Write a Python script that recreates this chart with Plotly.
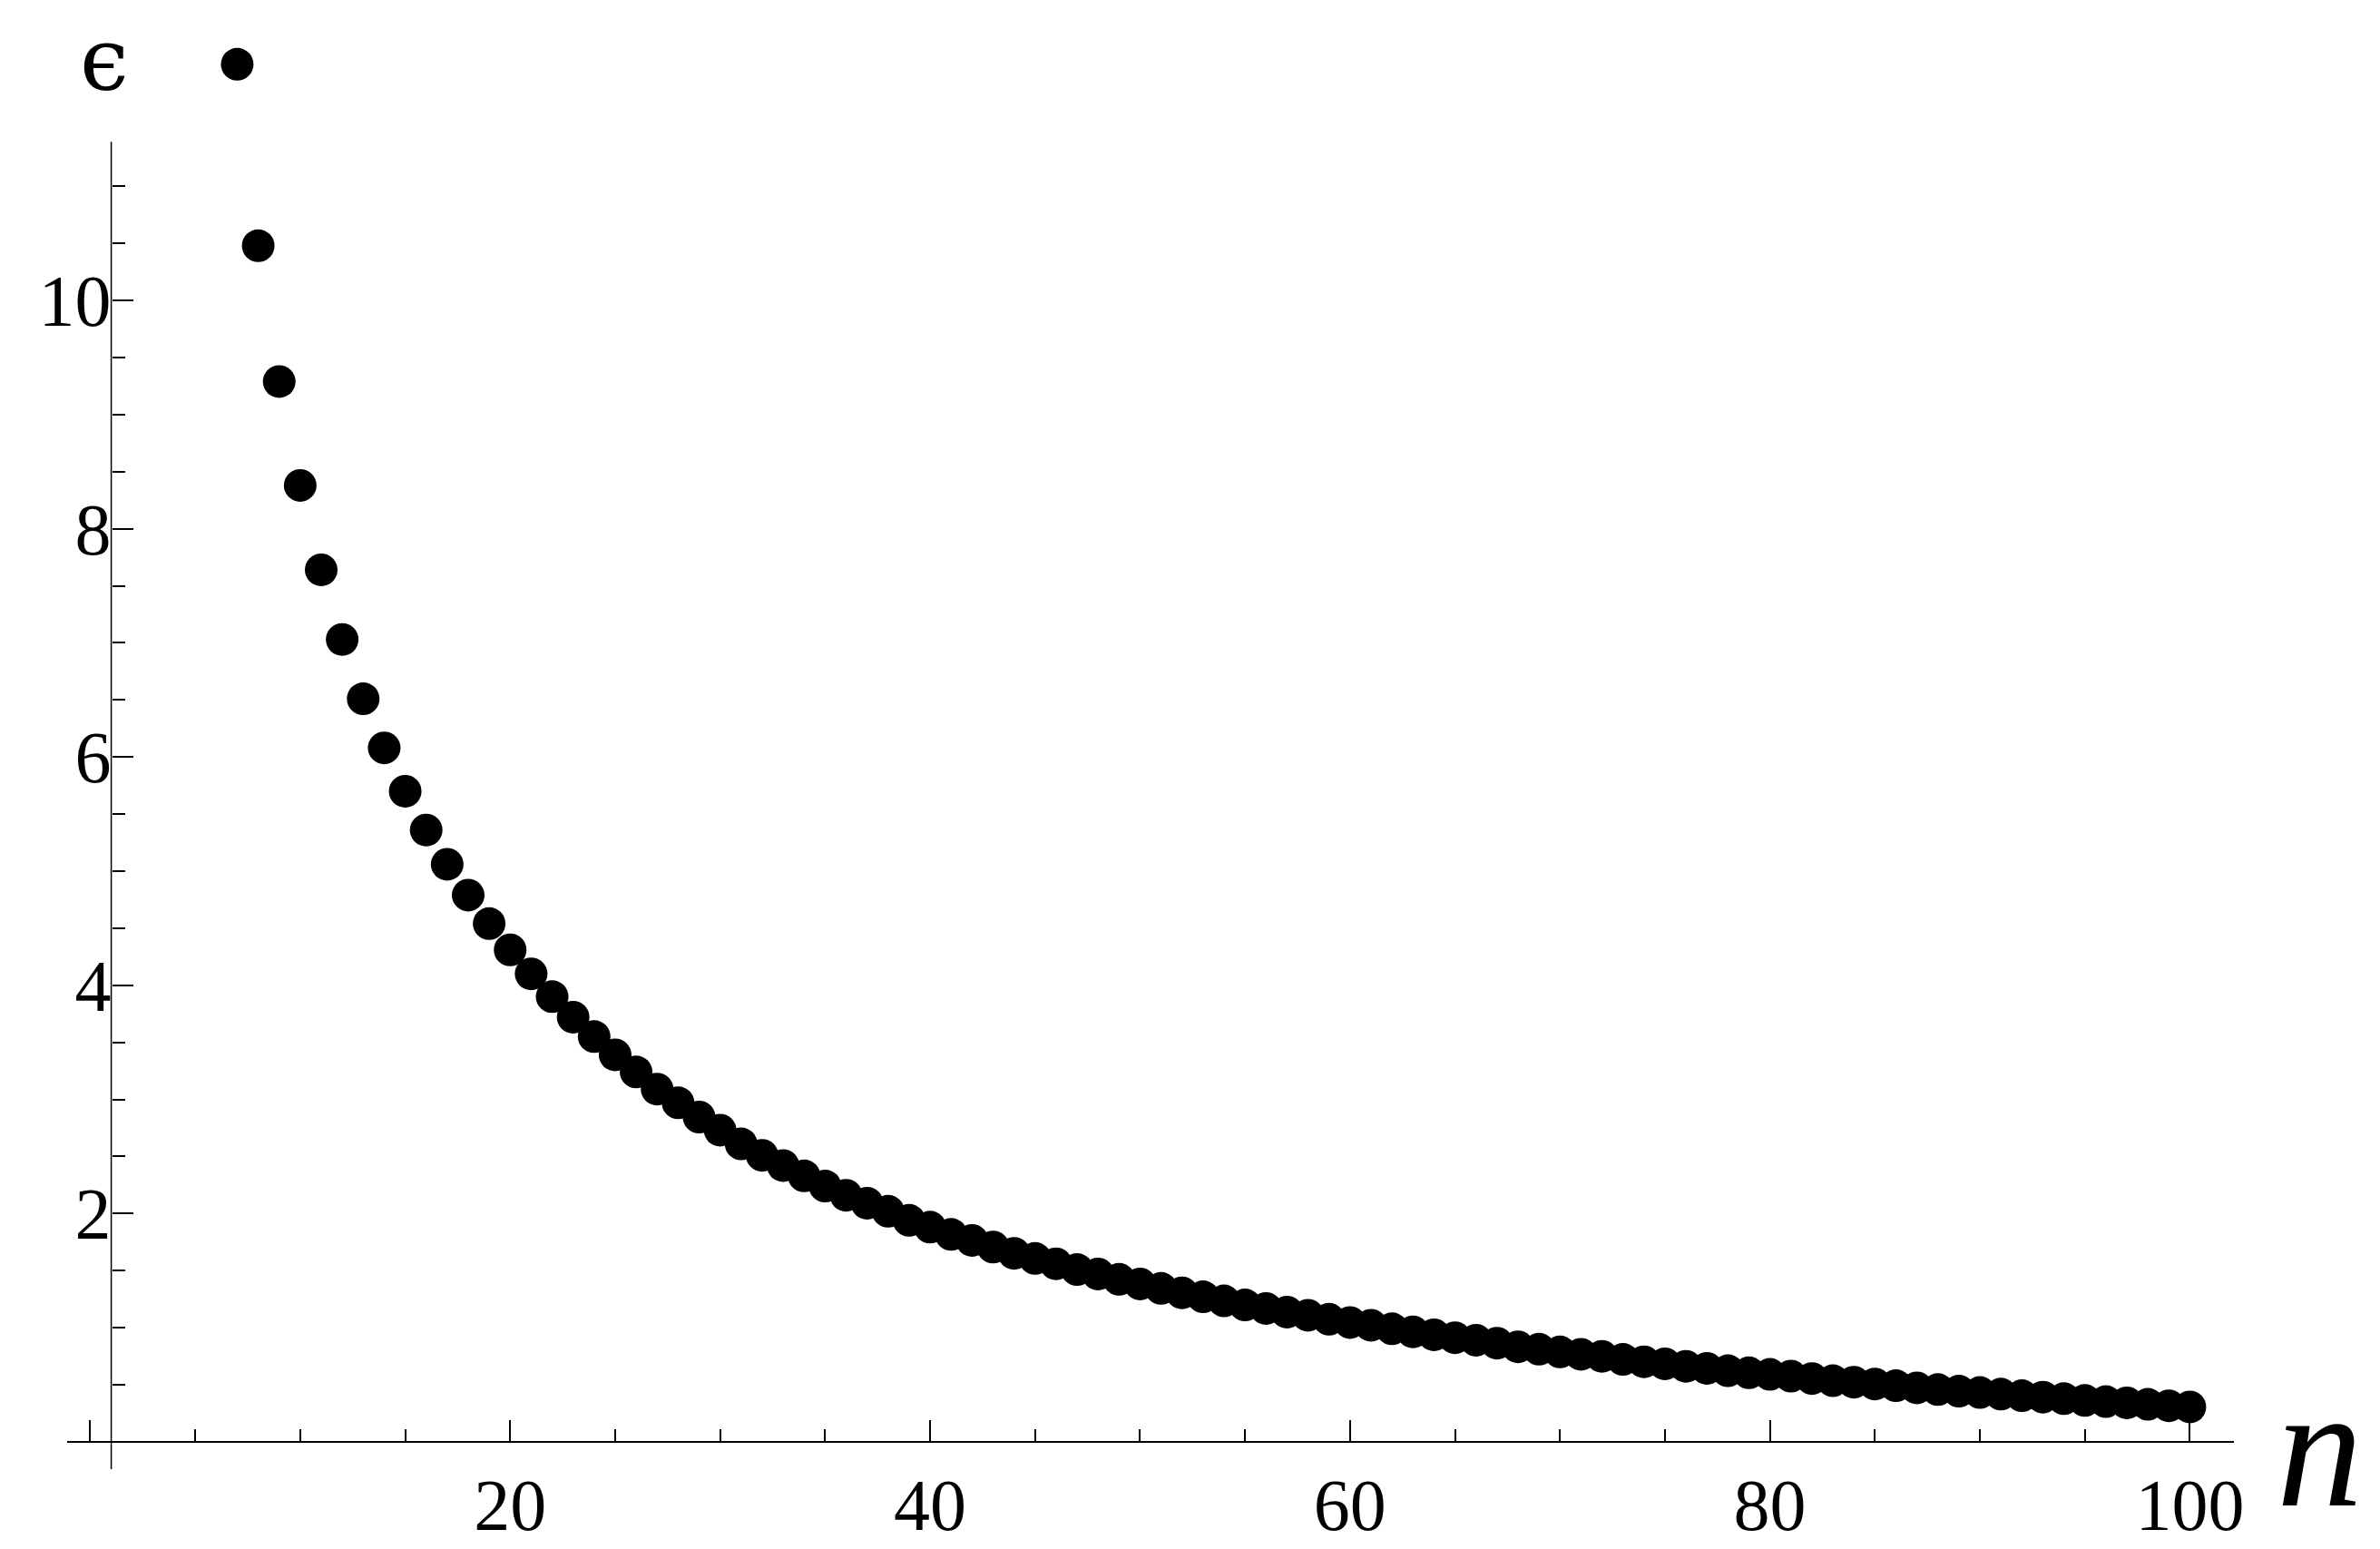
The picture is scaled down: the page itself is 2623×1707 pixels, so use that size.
import plotly.graph_objects as go

# ---- data ----
n_values = list(range(7, 101))
eps_values = [
    12.07, 10.48, 9.29, 8.38, 7.64, 7.03, 6.51, 6.08, 5.70, 5.36,
    5.06, 4.79, 4.54, 4.31, 4.10, 3.90, 3.72, 3.55, 3.39, 3.24,
    3.09, 2.97, 2.845, 2.73, 2.61, 2.51, 2.42, 2.33, 2.24, 2.16,
    2.09, 2.02, 1.94, 1.88, 1.817, 1.764, 1.706, 1.651, 1.606, 1.559,
    1.509, 1.47, 1.423, 1.383, 1.344, 1.305, 1.27, 1.234, 1.199, 1.168,
    1.136, 1.108, 1.073, 1.045, 1.021, 0.99, 0.963, 0.937, 0.911, 0.89,
    0.864, 0.832, 0.811, 0.787, 0.766, 0.748, 0.722, 0.701, 0.683, 0.661,
    0.643, 0.622, 0.604, 0.59, 0.575, 0.554, 0.535, 0.522, 0.506, 0.491,
    0.472, 0.457, 0.443, 0.431, 0.417, 0.404, 0.391, 0.378, 0.362, 0.352,
    0.341, 0.328, 0.315, 0.305,
]
x_tick_vals = [0, 20, 40, 60, 80, 100]
x_tick_text = ["", "20", "40", "60", "80", "100"]
y_tick_vals = [0, 2, 4, 6, 8, 10]
y_tick_text = ["", "2", "4", "6", "8", "10"]
y_minor_vals = [k * 0.5 for k in range(0, 23)]   # 0 .. 11

X_RANGE = [-1.1, 102.1]          # extent of the drawn axes
Y_AXIS_EXTENT = [-0.24, 11.39]   # extent of the drawn vertical axis
Y_RANGE = [-0.24, 12.45]         # room for the first point above the axis
X_CROSS = 1.0   # vertical axis crosses at n = 1
Y_CROSS = 0.0   # horizontal axis crosses at eps = 0

W, H = 2623, 1707
ML, MR, MB = 66, 169, 80
PX_PER_Y = 127.0
PH = round((Y_RANGE[1] - Y_RANGE[0]) * PX_PER_Y)
MT = H - MB - PH
PW = W - ML - MR

FONT = "Liberation Serif, Times New Roman, serif"

fig = go.Figure()
fig.add_trace(go.Scatter(
    x=n_values, y=eps_values, mode="markers",
    marker=dict(size=36, color="black", line=dict(width=0)),
    cliponaxis=False, showlegend=False,
))

xpos = (Y_CROSS - Y_RANGE[0]) / (Y_RANGE[1] - Y_RANGE[0])
ypos = (X_CROSS - X_RANGE[0]) / (X_RANGE[1] - X_RANGE[0])

fig.update_layout(
    width=W, height=H,
    margin=dict(l=ML, r=MR, t=MT, b=MB, pad=0),
    paper_bgcolor="white", plot_bgcolor="white",
    font=dict(family=FONT, color="black", size=80),
    xaxis=dict(
        range=X_RANGE, anchor="free", position=xpos,
        showgrid=False, zeroline=False,
        showline=True, linecolor="black", linewidth=1.5,
        tickmode="array", tickvals=x_tick_vals, ticktext=x_tick_text,
        ticks="inside", ticklen=23, tickwidth=1.5, tickcolor="black",
        tickfont=dict(family=FONT, size=80, color="black"),
        minor=dict(tickmode="linear", tick0=0, dtick=5, ticks="inside",
                   ticklen=13, tickwidth=1.5, tickcolor="black", showgrid=False),
    ),
    yaxis=dict(
        range=Y_RANGE, anchor="free", position=ypos,
        showgrid=False, zeroline=False,
        showline=False,
        tickmode="array", tickvals=y_tick_vals, ticktext=y_tick_text,
        ticks="inside", ticklen=23, tickwidth=1.5, tickcolor="black",
        tickfont=dict(family=FONT, size=80, color="black"),
        minor=dict(tickmode="array", tickvals=y_minor_vals, ticks="inside",
                   ticklen=14, tickwidth=1.5, tickcolor="black", showgrid=False),
    ),
)

# vertical axis line, limited to the axis extent
fig.add_shape(type="line", xref="x", yref="y",
              x0=X_CROSS, x1=X_CROSS, y0=Y_AXIS_EXTENT[0], y1=Y_AXIS_EXTENT[1],
              line=dict(color="black", width=1.5), layer="below")

def px_to_paper(px, py):
    return (px - ML) / PW, (H - MB - py) / PH

nx, ny = px_to_paper(2548, 1603)
ex, ey = px_to_paper(107, 58)
fig.add_annotation(text="<i>n</i>", x=nx, y=ny, xref="paper", yref="paper",
                   xanchor="center", yanchor="middle", showarrow=False,
                   font=dict(family="Liberation Serif", size=190, color="black"))
fig.add_annotation(text="ϵ", x=ex, y=ey, xref="paper", yref="paper",
                   xanchor="center", yanchor="middle", showarrow=False,
                   font=dict(family="DejaVu Serif", size=96, color="black"))

fig.write_html("out.html")
